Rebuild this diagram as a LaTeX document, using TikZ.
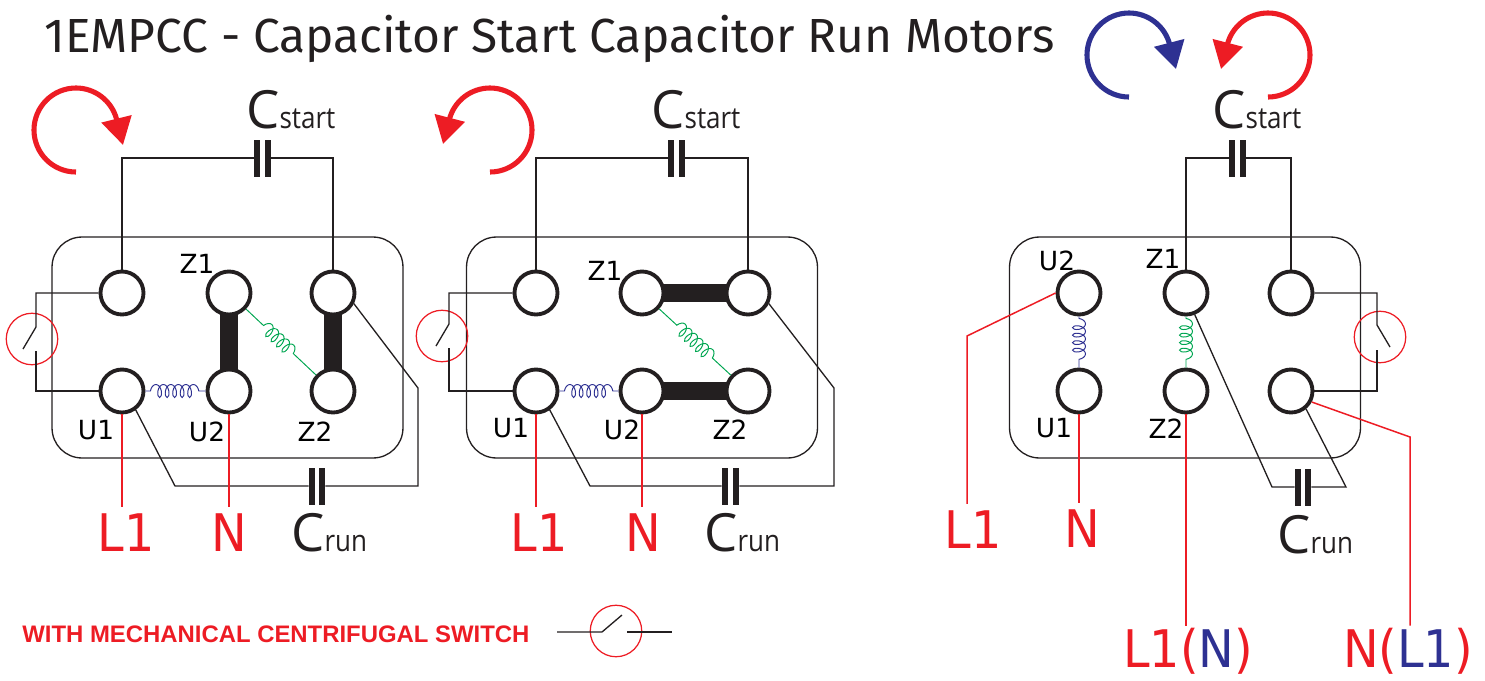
\documentclass[tikz,border=0pt]{standalone}
\usepackage{fontspec}
\setmainfont{Fira Sans}
\newfontfamily\capfont{Open Sans}
\newfontfamily\subfont[FakeStretch=0.87]{Open Sans}
\newfontfamily\termfont{DejaVu Sans}
\newfontfamily\supplyfont[FakeStretch=0.92]{DejaVu Sans}
\newfontfamily\notefont{Liberation Sans}
\usetikzlibrary{arrows.meta,decorations.pathmorphing}
\definecolor{ink}{HTML}{231F20}
\definecolor{linered}{HTML}{ED1C24}
\definecolor{lineblue}{HTML}{2E3192}
\definecolor{coilgreen}{HTML}{00A651}
\tikzset{
  wire/.style={draw=ink, line width=0.75pt},
  redwire/.style={draw=linered, line width=0.85pt},
  motorbox/.style={draw=ink, line width=0.75pt, rounded corners=0.6cm, minimum width=7.02cm, minimum height=4.42cm, inner sep=0},
  term/.style={draw=ink, circle, line width=2.2pt, minimum size=0.86cm, inner sep=0},
  link/.style={draw=ink, line width=10pt, shorten <=-1.5pt, shorten >=-1.5pt},
  capplate/.style={fill=ink, minimum width=0.12cm, minimum height=0.74cm, inner sep=0},
  swring/.style={draw=linered, circle, line width=0.7pt, minimum size=1.03cm, inner sep=0},
  winding/.style={line width=0.55pt, decorate, decoration={coil, aspect=0.55, segment length=0.15cm, amplitude=0.13cm, pre length=#1, post length=#1}},
  termlabel/.style={font=\termfont\fontsize{15}{15}\selectfont, inner sep=0, anchor=base},
  capname/.style={text=ink, inner sep=0, anchor=base west},
  supply/.style={text=linered, font=\supplyfont\fontsize{29.5}{30}\selectfont, inner ysep=3.4pt, inner xsep=0, anchor=base},
  turnred/.style={draw=linered, line width=2.9pt, -{Triangle[length=0.54cm, width=0.6cm]}},
  turnblue/.style={draw=lineblue, line width=2.9pt, -{Triangle[length=0.54cm, width=0.6cm]}}
}
\newcommand{\capsym}[1]{{\capfont\fontsize{30}{30}\selectfont C}{\subfont\fontsize{17}{17}\selectfont #1}}
\begin{document}
\begin{tikzpicture}[x=0.02cm, y=-0.02cm]
        \useasboundingbox (0, 0) rectangle (1485, 680);
        \node (title) at (44, 52) [anchor=base west, inner sep=0, text=ink, font=\fontsize{27.25}{27}\selectfont] {1EMPCC - Capacitor Start Capacitor Run Motors};

        % motor boxes and terminals
        \node [motorbox] (abox) at (227.5, 347.5) {};
        \node [motorbox] (bbox) at (642, 347.5) {};
        \node [motorbox] (cbox) at (1185, 347.5) {};
        \foreach \nm/\x/\y in {atl/122/293, az1/229/293, atr/333/293, au1/122/391, au2/229/391, az2/333/391,
                btl/536/293, bz1/642/293, btr/748/293, bu1/536/391, bu2/642/391, bz2/748/391,
                cu2/1079/293, cz1/1186/293, ctr/1291/293, cu1/1079/391, cz2/1186/391, cbr/1291/391}
            \node [term] (\nm) at (\x, \y) {};

        \foreach \nm/\x/\y/\txt in {la1/96/439/U1, la2/207/441/U2, la3/315/441/Z2, la4/197/273/Z1,
                lb1/511/437/U1, lb2/622/439/U2, lb3/730/439/Z2, lb4/605/280/Z1,
                lc1/1057/270/U2, lc2/1163/268/Z1, lc3/1054/437/U1, lc4/1166/438/Z2}
            \node [termlabel] (\nm) at (\x, \y) {\txt};

        % links and coils
        \draw [link] (az1) -- (au2);
        \draw [link] (atr) -- (az2);
        \draw [link] (bz1) -- (btr);
        \draw [link] (bu2) -- (bz2);
        \draw [winding=0.1cm, lineblue] (au1) -- (au2);
        \draw [winding=0.48cm, coilgreen] (az1) -- (az2);
        \draw [winding=0.1cm, lineblue] (bu1) -- (bu2);
        \draw [winding=0.48cm, coilgreen] (bz1) -- (bz2);
        \draw [winding=0.04cm, lineblue] (cu2) -- (cu1);
        \draw [winding=0.04cm, coilgreen] (cz1) -- (cz2);

        % start capacitors
        \foreach \nm/\xa/\xb in {as/257/268, bs/671/682, cs/1232/1243} {
            \node [capplate] (\nm1) at (\xa, 158) {};
            \node [capplate] (\nm2) at (\xb, 158) {};
        }
        \draw [wire] (atl.north) |- (as1.west);
        \draw [wire] (atr.north) |- (as2.east);
        \draw [wire] (btl.north) |- (bs1.west);
        \draw [wire] (btr.north) |- (bs2.east);
        \draw [wire] (cz1.north) |- (cs1.west);
        \draw [wire] (ctr.north) |- (cs2.east);
        \node [capname] (asname) at (246, 128) {\capsym{start}};
        \node [capname] (bsname) at (651, 128) {\capsym{start}};
        \node [capname] (csname) at (1212, 128) {\capsym{start}};

        % run capacitors
        \foreach \nm/\xa/\xb/\y in {ar/312/322/486, br/725/736/486, cr/1298/1308/487} {
            \node [capplate] (\nm1) at (\xa, \y) {};
            \node [capplate] (\nm2) at (\xb, \y) {};
        }
        \coordinate (aka) at (175, 486);
        \coordinate (akb) at (418, 388);
        \coordinate (bka) at (590, 486);
        \coordinate (bkb) at (834, 388);
        \coordinate (cka) at (1272, 487);
        \coordinate (ckb) at (1346, 487);
        \draw [wire] (au1.-54) -- (aka) -- (ar1.west);
        \draw [wire] (ar2.east) -| (akb) -- (atr.-27);
        \draw [wire] (bu1.-54) -- (bka) -- (br1.west);
        \draw [wire] (br2.east) -| (bkb) -- (btr.-27);
        \draw [wire] (cz1.-68) -- (cka) -- (cr1.west);
        \draw [wire] (cr2.east) -- (ckb) -- (cbr.-50);
        \node [capname] (arname) at (291, 551) {\capsym{run}};
        \node [capname] (brname) at (704, 551) {\capsym{run}};
        \node [capname] (crname) at (1277, 553) {\capsym{run}};

        % centrifugal switches
        \node [swring] (asw) at (32, 339) {};
        \node [swring] (bsw) at (442, 336) {};
        \node [swring] (csw) at (1380, 337) {};
        \coordinate (asa) at (36, 327);
        \coordinate (asb) at (23, 349);
        \coordinate (asc) at (36, 351);
        \coordinate (bsa) at (449, 324);
        \coordinate (bsb) at (436, 346);
        \coordinate (bsc) at (449, 348);
        \coordinate (csa) at (1377, 325);
        \coordinate (csb) at (1390, 347);
        \coordinate (csc) at (1377, 350);
        \draw [wire] (atl.west) -| (asa) -- (asb);
        \draw [wire] (au1.west) -| (asc);
        \draw [wire] (btl.west) -| (bsa) -- (bsb);
        \draw [wire] (bu1.west) -| (bsc);
        \draw [wire] (ctr.east) -| (csa) -- (csb);
        \draw [wire] (cbr.east) -| (csc);

        % supply lines
        \node [supply] (aline) at (126, 551) {L1};
        \node [supply] (aneut) at (229, 551) {N};
        \node [supply] (bline) at (539, 551) {L1};
        \node [supply] (bneut) at (643, 551) {N};
        \node [supply] (cline) at (973, 548) {L1};
        \node [supply] (cneut) at (1082, 547) {N};
        \node [supply, anchor=base, inner ysep=1pt] (crevb) at (1188, 667) {L1({\color{lineblue}N})};
        \node [supply, anchor=base, inner ysep=1pt] (crevc) at (1408, 667) {N({\color{lineblue}L1})};
        \coordinate (cka1) at (967, 336);
        \coordinate (ckb1) at (1410, 437);
        \draw [redwire] (au1.south) -- (au1.south |- aline.north);
        \draw [redwire] (au2.south) -- (au2.south |- aneut.north);
        \draw [redwire] (bu1.south) -- (bu1.south |- bline.north);
        \draw [redwire] (bu2.south) -- (bu2.south |- bneut.north);
        \draw [redwire] (cu2.west) -- (cka1) -- (cka1 |- cline.north);
        \draw [redwire] (cu1.south) -- (cu1.south |- cneut.north);
        \draw [redwire] (cz2.south) -- (cz2.south |- crevb.north);
        \draw [redwire] (cbr.-28) -- (ckb1) -- (ckb1 |- crevc.north);

        % rotation arrows
        \coordinate (aha) at (123, 145);
        \coordinate (bha) at (443, 144);
        \coordinate (cha) at (1176, 69);
        \coordinate (dha) at (1221, 69);
        \draw [turnred] (76, 172) arc [start angle=90, end angle=345, radius=42] -- (aha);
        \draw [turnred] (490, 172) arc [start angle=90, end angle=-165, radius=42] -- (bha);
        \draw [turnblue] (1129, 97) arc [start angle=90, end angle=345, radius=42] -- (cha);
        \draw [turnred] (1268, 97) arc [start angle=90, end angle=-165, radius=42] -- (dha);

        % legend
        \node (note) at (22, 642) [anchor=base west, inner sep=0, text=linered, font=\notefont\bfseries\fontsize{13.6}{14}\selectfont] {WITH MECHANICAL CENTRIFUGAL SWITCH};
        \node [swring] (lsw) at (616, 631) {};
        \coordinate (lsa) at (557, 632);
        \coordinate (lsb) at (602, 632);
        \coordinate (lsc) at (622, 615);
        \coordinate (lsd) at (627, 632);
        \coordinate (lse) at (672, 632);
        \draw [wire] (lsa) -- (lsb) -- (lsc);
        \draw [wire] (lsd) -- (lse);
    \end{tikzpicture}
\end{document}
